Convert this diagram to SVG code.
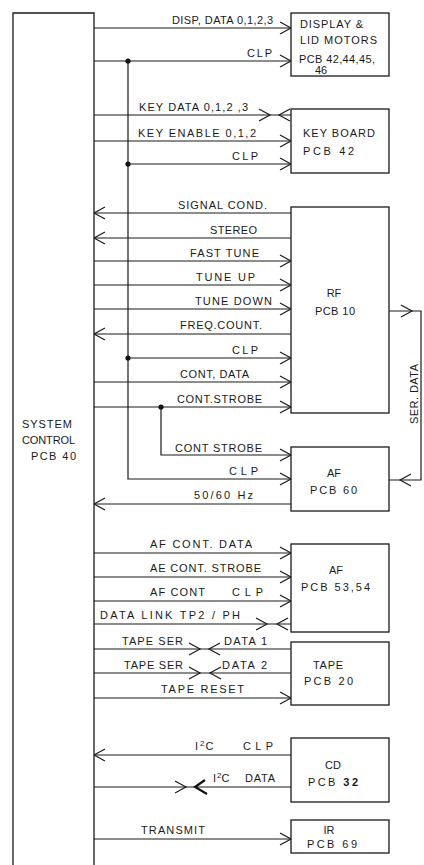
<svg xmlns="http://www.w3.org/2000/svg" width="424" height="865" viewBox="0 0 424 865">
<style>
.ln{fill:none;stroke:#1a1a1a;stroke-width:1.2}
.bx{fill:#fff;stroke:#1a1a1a;stroke-width:1.3}
.ah{fill:none;stroke:#1a1a1a;stroke-width:1.2}
.t{font-family:"Liberation Sans","DejaVu Sans",sans-serif;font-size:11px;fill:#1a1a1a}
.m{text-anchor:middle}
.dot{fill:#111}
</style>
<defs>
<path id="ar" class="ah" d="M-11,-6 L0,0 L-11,6"/>
<path id="arb" fill="none" stroke="#111" stroke-width="2.2" d="M-12,-7 L0,0 L-10,7"/>
</defs>
<rect width="424" height="865" fill="#fff"/>

<g id="connectors">
  <path class="ln" d="M128,61 V479 H291"/>
  <path class="ln" d="M161,407 V455 H291"/>
  <circle class="dot" cx="128" cy="61" r="2.6"/>
  <circle class="dot" cx="128" cy="164" r="2.6"/>
  <circle class="dot" cx="128" cy="358" r="2.6"/>
  <circle class="dot" cx="161" cy="407" r="2.6"/>
  <path class="ln" d="M94,28 H291 M94,61 H291 M94,115 H291 M94,141 H291 M128,164 H291
    M94,213 H291 M94,238 H291 M94,261 H291 M94,285 H291 M94,309 H291 M94,334 H291
    M128,358 H291 M94,382 H291 M94,407 H291 M94,504 H291
    M94,553 H291 M94,577 H291 M94,601 H291 M94,624 H291
    M94,649 H291 M94,673 H291 M94,698 H291 M94,755 H291 M94,787 H291 M94,839 H291"/>
  <path class="ln" d="M389,311 H421 V480 H389"/>
  <use href="#ar" x="291" y="28"/>
  <use href="#ar" x="291" y="61"/>
  <use href="#ar" x="291" y="141"/>
  <use href="#ar" x="291" y="164"/>
  <use href="#ar" x="291" y="261"/>
  <use href="#ar" x="291" y="285"/>
  <use href="#ar" x="291" y="309"/>
  <use href="#ar" x="291" y="358"/>
  <use href="#ar" x="291" y="382"/>
  <use href="#ar" x="291" y="407"/>
  <use href="#ar" x="291" y="455"/>
  <use href="#ar" x="291" y="479"/>
  <use href="#ar" x="291" y="553"/>
  <use href="#ar" x="291" y="577"/>
  <use href="#ar" x="291" y="601"/>
  <use href="#ar" x="291" y="698"/>
  <use href="#ar" x="291" y="839"/>
  <use href="#ar" transform="translate(94,213) rotate(180)"/>
  <use href="#ar" transform="translate(94,238) rotate(180)"/>
  <use href="#ar" transform="translate(94,334) rotate(180)"/>
  <use href="#ar" transform="translate(94,504) rotate(180)"/>
  <use href="#ar" transform="translate(94,755) rotate(180)"/>
  <use href="#ar" x="270" y="115"/>
  <use href="#ar" transform="translate(279,115) rotate(180)"/>
  <use href="#ar" x="267" y="624"/>
  <use href="#ar" transform="translate(277,624) rotate(180)"/>
  <use href="#ar" x="200" y="649"/>
  <use href="#ar" transform="translate(209,649) rotate(180)"/>
  <use href="#ar" x="200" y="673"/>
  <use href="#ar" transform="translate(210,673) rotate(180)"/>
  <use href="#ar" x="186" y="787"/>
  <use href="#arb" transform="translate(195,787) rotate(180)"/>
  <use href="#ar" x="412" y="311"/>
  <use href="#ar" transform="translate(400,480) rotate(180)"/>
  <text class="t m" transform="translate(418,394) rotate(-90)" textLength="60">SER. DATA</text>
  <text class="t" x="172" y="24" textLength="101">DISP, DATA 0,1,2,3</text>
  <text class="t" x="247" y="57" textLength="25">CLP</text>
  <text class="t" x="139" y="111" textLength="109">KEY DATA  0,1,2 ,3</text>
  <text class="t" x="138" y="137" textLength="118">KEY ENABLE  0,1,2</text>
  <text class="t" x="232" y="160" textLength="26">CLP</text>
  <text class="t" x="178" y="209" textLength="89">SIGNAL COND.</text>
  <text class="t" x="210" y="234" textLength="47">STEREO</text>
  <text class="t" x="190" y="257" textLength="69">FAST TUNE</text>
  <text class="t" x="196" y="281" textLength="59">TUNE  UP</text>
  <text class="t" x="195" y="305" textLength="77">TUNE DOWN</text>
  <text class="t" x="180" y="329" textLength="82">FREQ.COUNT.</text>
  <text class="t" x="232" y="354" textLength="26">CLP</text>
  <text class="t" x="180" y="378" textLength="69">CONT, DATA</text>
  <text class="t" x="177" y="403" textLength="85">CONT.STROBE</text>
  <text class="t" x="175" y="452" textLength="87">CONT STROBE</text>
  <text class="t" x="229" y="475" textLength="29">CLP</text>
  <text class="t" x="194" y="499" textLength="59">50/60 Hz</text>
  <text class="t" x="150" y="548" textLength="102">AF CONT.  DATA</text>
  <text class="t" x="150" y="572" textLength="111">AE CONT. STROBE</text>
  <text class="t" x="150" y="596" textLength="55">AF CONT</text>
  <text class="t" x="232" y="596" textLength="31">CLP</text>
  <text class="t" x="100" y="619" textLength="140">DATA  LINK  TP2 / PH</text>
  <text class="t" x="122" y="645" textLength="61">TAPE SER</text>
  <text class="t" x="224" y="645" textLength="43">DATA 1</text>
  <text class="t" x="124" y="669" textLength="59">TAPE SER</text>
  <text class="t" x="222" y="669" textLength="45">DATA 2</text>
  <text class="t" x="161" y="693" textLength="83">TAPE  RESET</text>
  <text class="t" x="195" y="750">I<tspan dx="2" dy="-4" font-size="8">2</tspan><tspan dx="1" dy="4">C</tspan></text>
  <text class="t" x="243" y="750" textLength="30">CLP</text>
  <text class="t" x="213" y="782">I<tspan dx="1" dy="-4" font-size="8">2</tspan><tspan dy="4">C</tspan></text>
  <text class="t" x="245" y="782" textLength="30">DATA</text>
  <text class="t" x="141" y="834" textLength="64">TRANSMIT</text>
</g>

<g id="system-control">
  <path class="bx" d="M13,870 V13 H94 V870"/>
  <text class="t" x="22" y="428" textLength="50">SYSTEM</text>
  <text class="t" x="22" y="444" textLength="53">CONTROL</text>
  <text class="t" x="31" y="460" textLength="45">PCB 40</text>
</g>
<g id="display">
  <rect class="bx" x="291" y="13" width="98" height="63"/>
  <text class="t" x="300" y="28" textLength="63">DISPLAY &amp;</text>
  <text class="t" x="300" y="44" textLength="77">LID  MOTORS</text>
  <text class="t" x="299" y="63" textLength="76">PCB 42,44,45,</text>
  <text class="t" x="315" y="74">46</text>
</g>
<g id="keyboard">
  <rect class="bx" x="291" y="109" width="98" height="64"/>
  <text class="t" x="303" y="137" textLength="72">KEY  BOARD</text>
  <text class="t" x="303" y="155" textLength="51">PCB  42</text>
</g>
<g id="rf">
  <rect class="bx" x="291" y="207" width="98" height="206"/>
  <text class="t m" x="334" y="297">RF</text>
  <text class="t" x="315" y="315" textLength="40">PCB 10</text>
</g>
<g id="af60">
  <rect class="bx" x="291" y="447" width="98" height="64"/>
  <text class="t m" x="334" y="477">AF</text>
  <text class="t" x="310" y="494" textLength="47">PCB 60</text>
</g>
<g id="af53">
  <rect class="bx" x="291" y="544" width="98" height="88"/>
  <text class="t m" x="336" y="574">AF</text>
  <text class="t" x="301" y="591" textLength="69">PCB 53,54</text>
</g>
<g id="tape">
  <rect class="bx" x="291" y="642" width="98" height="63"/>
  <text class="t" x="313" y="669" textLength="30">TAPE</text>
  <text class="t" x="304" y="685" textLength="49">PCB 20</text>
</g>
<g id="cd">
  <rect class="bx" x="291" y="738" width="98" height="64"/>
  <text class="t m" x="333" y="769">CD</text>
  <text class="t" x="308" y="786" textLength="50">PCB <tspan font-weight="bold">32</tspan></text>
</g>
<g id="ir">
  <rect class="bx" x="291" y="820" width="98" height="33"/>
  <text class="t m" x="329" y="834">IR</text>
  <text class="t" x="307" y="848" textLength="50">PCB  69</text>
</g>
</svg>
